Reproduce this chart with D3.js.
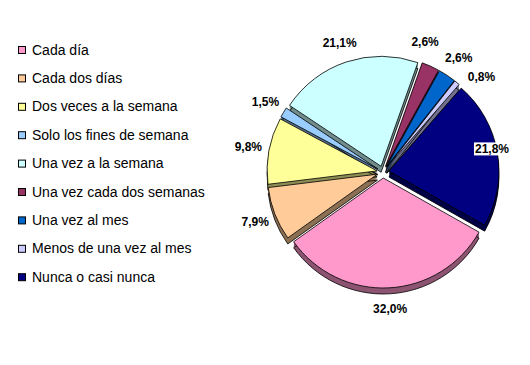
<!DOCTYPE html>
<html>
<head>
<meta charset="utf-8">
<script src="https://cdn.jsdelivr.net/npm/d3@7"></script>
<style>
body { margin: 0; background: #fff; }
svg { display: block; font-family: "Liberation Sans", Arial, sans-serif; }
</style>
</head>
<body>
<svg id="chart"></svg>
<script>
var categories = ["Cada día", "Cada dos días", "Dos veces a la semana", "Solo los fines de semana",
  "Una vez a la semana", "Una vez cada dos semanas", "Una vez al mes", "Menos de una vez al mes",
  "Nunca o casi nunca"];
var values = [32.0, 7.9, 9.8, 1.5, 21.1, 2.6, 2.6, 0.8, 21.8];
var colors = ["#FF99CC", "#FFCC99", "#FFFF99", "#99CCFF", "#CCFFFF", "#993366", "#0066CC", "#CCCCFF", "#000080"];

var width = 530, height = 365;
var cx = 383, cy = 172, R = 110, explode = 6, depth = 6, labelR = 137;
var startDeg = 119.5;

var svg = d3.select("#chart").attr("width", width).attr("height", height);

var fmt = function(v) { return v.toFixed(1).replace(".", ",") + "%"; };
var shade = function(c) {
  var r = d3.rgb(c);
  return d3.rgb(r.r * 0.55, r.g * 0.55, r.b * 0.55).formatHex();
};

var a0 = startDeg * Math.PI / 180;
var pie = d3.pie().sort(null).value(function(d) { return d; })
  .startAngle(a0).endAngle(a0 + 2 * Math.PI);
var arcs = pie(values);
var arc = d3.arc().innerRadius(0).outerRadius(R);

var mid = function(d) { return (d.startAngle + d.endAngle) / 2; };
var offset = function(d) {
  var m = mid(d);
  return [cx + explode * Math.sin(m), cy - explode * Math.cos(m)];
};

// side walls (extruded downwards)
var sides = svg.append("g");
arcs.forEach(function(d, i) {
  var o = offset(d);
  for (var k = 1; k <= depth; k++) {
    sides.append("path")
      .attr("d", arc(d))
      .attr("transform", "translate(" + o[0] + "," + (o[1] + k) + ")")
      .attr("fill", shade(colors[i]))
      .attr("stroke", k == depth ? "#000" : "none")
      .attr("stroke-width", 0.8);
  }
});

// top faces
svg.append("g").selectAll("path")
  .data(arcs)
  .join("path")
  .attr("d", arc)
  .attr("transform", function(d) { var o = offset(d); return "translate(" + o[0] + "," + o[1] + ")"; })
  .attr("fill", function(d, i) { return colors[i]; })
  .attr("stroke", "#000")
  .attr("stroke-width", 0.8);

// data labels
var lg = svg.append("g");
var labs = arcs.map(function(d, i) {
  var g = lg.append("g");
  var bg = g.append("rect").attr("fill", "#fff");
  var t = g.append("text")
    .attr("text-anchor", "middle")
    .attr("font-size", "12px")
    .attr("font-weight", "bold")
    .attr("fill", "#000")
    .text(fmt(values[i]));
  return { g: g, bg: bg, t: t, a: mid(d), w: t.node().getComputedTextLength() + 2, h: 13 };
});

var place = function(l) {
  l.x = cx + labelR * Math.sin(l.a);
  l.y = cy - labelR * Math.cos(l.a);
  l.x = Math.min(l.x, width - 20 - l.w / 2);
};
var padX = 4, padY = 5;
var overlap = function(p, q) {
  return Math.abs(p.x - q.x) < (p.w + q.w) / 2 + padX && Math.abs(p.y - q.y) < (p.h + q.h) / 2 + padY;
};

// spread labels that collide
for (var it = 0; it < 400; it++) {
  labs.forEach(place);
  var moved = false;
  for (var j = 0; j < labs.length; j++) {
    for (var k = j + 1; k < labs.length; k++) {
      if (overlap(labs[j], labs[k])) {
        var da = Math.atan2(Math.sin(labs[k].a - labs[j].a), Math.cos(labs[k].a - labs[j].a));
        var s = da >= 0 ? 1 : -1;
        labs[j].a -= s * 0.01;
        labs[k].a += s * 0.01;
        moved = true;
      }
    }
  }
  if (!moved) break;
}
labs.forEach(place);

labs.forEach(function(l) {
  l.t.attr("x", l.x).attr("y", l.y + 4.5);
  l.bg.attr("x", l.x - l.w / 2).attr("y", l.y - l.h / 2).attr("width", l.w).attr("height", l.h);
});

// legend
var legend = svg.append("g");
var rowH = 28.4;
categories.forEach(function(c, i) {
  legend.append("rect")
    .attr("x", 18.5).attr("y", 46.5 + i * rowH)
    .attr("width", 7).attr("height", 7)
    .attr("fill", colors[i])
    .attr("stroke", "#000").attr("stroke-width", 1);
  legend.append("text")
    .attr("x", 32).attr("y", 54.5 + i * rowH)
    .attr("font-size", "14px")
    .attr("fill", "#000")
    .text(c);
});
</script>
</body>
</html>
